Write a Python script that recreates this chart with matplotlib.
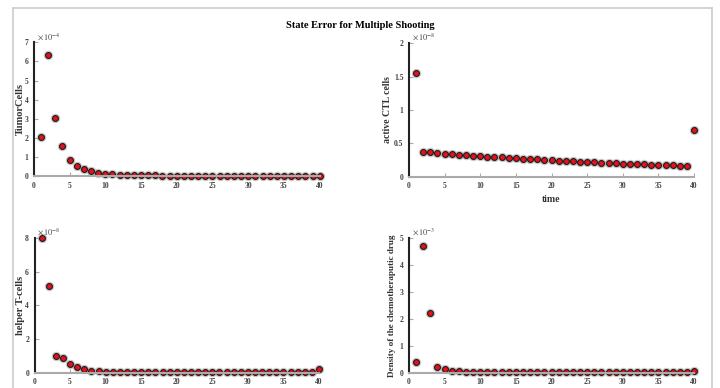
import matplotlib
matplotlib.use('Agg')
import matplotlib.pyplot as plt
from matplotlib.lines import Line2D
from matplotlib.ticker import FuncFormatter
import numpy as np

plt.rcParams['font.family'] = ['Liberation Serif', 'DejaVu Serif']
plt.rcParams['mathtext.fontset'] = 'stix'

# time nodes of the shooting grid
t = np.arange(1, 41)

# state errors, in units of the axis multiplier
tumor = [2.05, 6.35, 3.05, 1.57, 0.83, 0.52, 0.36, 0.25, 0.18, 0.13,
         0.10, 0.08, 0.07, 0.06, 0.05, 0.04, 0.035, 0.03, 0.03, 0.03,
         0.03, 0.03, 0.03, 0.03, 0.03, 0.03, 0.03, 0.03, 0.03, 0.03,
         0.03, 0.03, 0.03, 0.03, 0.03, 0.03, 0.03, 0.03, 0.03, 0.03]
ctl = [1.56, 0.37, 0.365, 0.355, 0.345, 0.34, 0.33, 0.325, 0.315, 0.31,
       0.305, 0.30, 0.295, 0.285, 0.28, 0.275, 0.27, 0.265, 0.255, 0.25,
       0.245, 0.24, 0.235, 0.23, 0.225, 0.22, 0.215, 0.21, 0.205, 0.20,
       0.20, 0.195, 0.19, 0.185, 0.18, 0.178, 0.175, 0.17, 0.167, 0.70]
helper = [8.0, 5.15, 1.0, 0.9, 0.55, 0.35, 0.2, 0.13, 0.1, 0.08,
          0.06, 0.05, 0.05, 0.05, 0.05, 0.05, 0.05, 0.05, 0.05, 0.05,
          0.05, 0.05, 0.05, 0.05, 0.05, 0.05, 0.05, 0.05, 0.05, 0.05,
          0.05, 0.05, 0.05, 0.05, 0.05, 0.05, 0.05, 0.05, 0.05, 0.2]
drug = [0.4, 4.7, 2.2, 0.22, 0.13, 0.08, 0.06, 0.04, 0.03, 0.02,
        0.02, 0.02, 0.02, 0.02, 0.035, 0.04, 0.045, 0.045, 0.05, 0.05,
        0.05, 0.05, 0.05, 0.05, 0.05, 0.05, 0.05, 0.05, 0.05, 0.05,
        0.05, 0.05, 0.05, 0.05, 0.05, 0.05, 0.05, 0.05, 0.05, 0.06]

panels = [
    (tumor, -4, 7, [0, 1, 2, 3, 4, 5, 6, 7], 'TumorCells', 7.5, -0.031,
     [0.047, 0.546, 0.397, 0.345]),
    (ctl, -8, 2, [0, 0.5, 1, 1.5, 2], 'active CTL cells', 7, -0.058,
     [0.568, 0.544, 0.396, 0.345]),
    (helper, -8, 8, [0, 2, 4, 6, 8], 'helper T-cells', 7.5, -0.032,
     [0.048, 0.039, 0.395, 0.348]),
    (drug, -3, 5, [0, 1, 2, 3, 4, 5], 'Density of the chemotheraputic drug', 6.6, -0.044,
     [0.568, 0.039, 0.396, 0.348]),
]

fig = plt.figure(figsize=(7.2, 3.88), dpi=100)

for i, (vals, ex, ytop, yt, ylab, lsize, lx, pos) in enumerate(panels):
    scale = 10.0 ** ex
    y = np.array(vals) * scale
    ax = fig.add_axes(pos)
    ax.plot(t, y, 'o', ms=6.8, color='#999999', alpha=0.55, mec='none', clip_on=False)
    ax.plot(t, y, 'o', ms=4.2, mfc='#e8101a', mec='#1a1a1a', mew=0.8, clip_on=False)
    ax.set_xlim(0, 40)
    ax.set_ylim(0, ytop * scale)
    ax.set_xticks(range(0, 41, 5))
    ax.set_yticks([v * scale for v in yt])
    ax.yaxis.set_major_formatter(FuncFormatter(lambda v, _, s=scale: '%g' % round(v / s, 6)))
    for s in ['top', 'right']:
        ax.spines[s].set_visible(False)
    ax.spines['left'].set_color('#222222')
    ax.spines['left'].set_linewidth(1.5)
    ax.spines['bottom'].set_color('#aaaaaa')
    ax.spines['bottom'].set_linewidth(1.5)
    ax.tick_params(direction='in', length=3, width=0.8, color='#aaaaaa',
                   labelsize=5.5, labelcolor='#444444', pad=4)
    for lb in ax.get_xticklabels() + ax.get_yticklabels():
        lb.set_fontweight('bold')
    ax.text(0.01, 1.005, r'$\times\,10^{%d}$' % ex, transform=ax.transAxes,
            fontsize=6, color='#444444', ha='left', va='bottom')
    ax.set_ylabel(ylab, fontsize=lsize, fontweight='bold', color='#333333')
    ax.yaxis.set_label_coords(lx, 0.5)
    if i == 1:
        ax.set_xlabel('time', fontsize=7, fontweight='bold', color='#333333', labelpad=3)

fig.text(0.5, 0.935, 'State Error for Multiple Shooting', ha='center', va='center',
         fontsize=7.5, fontweight='bold')

# light frame round the figure
fc = '#cccccc'
fig.add_artist(Line2D([0.018, 0.018], [0.0, 0.979], color=fc, lw=1.2))
fig.add_artist(Line2D([0.018, 0.989], [0.979, 0.979], color=fc, lw=1.2))
fig.add_artist(Line2D([0.989, 0.989], [0.0, 0.979], color=fc, lw=1.2))

fig.savefig('out.png', dpi=100)
plt.close('all')
